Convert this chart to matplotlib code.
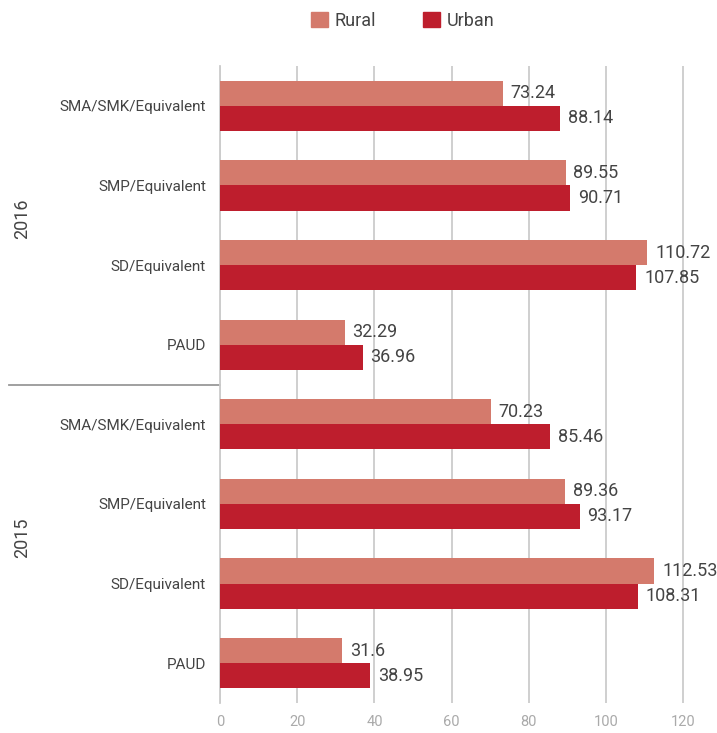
import matplotlib
matplotlib.use("Agg")
import matplotlib.pyplot as plt
import matplotlib.transforms as mtransforms
from matplotlib.lines import Line2D
from matplotlib.patches import Patch

plt.rcParams['font.family'] = ['Roboto', 'DejaVu Sans']

years = ["2016", "2015"]
levels = ["SMA/SMK/Equivalent", "SMP/Equivalent", "SD/Equivalent", "PAUD"]
rural = [73.24, 89.55, 110.72, 32.29, 70.23, 89.36, 112.53, 31.6]
urban = [88.14, 90.71, 107.85, 36.96, 85.46, 93.17, 108.31, 38.95]
x_ticks = [0, 20, 40, 60, 80, 100, 120]

rural_color = "#D47A6C"
urban_color = "#BE1E2D"
text_color = "#444444"

W, H = 717, 733
AX_L, AX_R, AX_T, AX_B = 220, 691, 66, 703
fig = plt.figure(figsize=(W / 100, H / 100), dpi=100)
ax = fig.add_axes([AX_L / W, 1 - AX_B / H, (AX_R - AX_L) / W, (AX_B - AX_T) / H])

n = len(rural)
pos = list(range(n))
bh = 0.315
ax.barh([p - bh / 2 for p in pos], rural, height=bh, color=rural_color, zorder=3)
ax.barh([p + bh / 2 for p in pos], urban, height=bh, color=urban_color, zorder=3)

for p, v in zip(pos, rural):
    ax.annotate(f"{v:g}", (v, p - bh / 2), xytext=(5.5, 0), textcoords="offset points",
                va="center", ha="left", fontsize=13, color=text_color)
for p, v in zip(pos, urban):
    ax.annotate(f"{v:g}", (v, p + bh / 2), xytext=(5.5, 0), textcoords="offset points",
                va="center", ha="left", fontsize=13, color=text_color)

ax.set_xlim(0, 122)
ax.set_ylim(n - 0.5, -0.5)
ax.set_xticks(x_ticks)
ax.set_xticklabels([str(t) for t in x_ticks], color="#aaaaaa", fontsize=10.5)
ax.tick_params(axis="x", length=0, pad=9)
ax.set_yticks(pos)
ax.set_yticklabels(levels * len(years), color=text_color, fontsize=11)
ax.tick_params(axis="y", length=0, pad=10)
ax.grid(axis="x", color="#cccccc", linewidth=1.3, zorder=0)
for s in ["top", "right", "bottom"]:
    ax.spines[s].set_visible(False)
ax.spines["left"].set_color("#cccccc")
ax.spines["left"].set_linewidth(1.3)

# separator between year groups
trans = mtransforms.blended_transform_factory(ax.transAxes, ax.transData)
ax.add_line(Line2D([-(AX_L - 9) / (AX_R - AX_L), 0], [3.5, 3.5], transform=trans,
                   color="#999999", linewidth=1.3, clip_on=False))

# year labels
per = len(levels)
for k, y in enumerate(years):
    center = k * per + (per - 1) / 2 - 0.08
    ax.text(-(AX_L - 22) / (AX_R - AX_L), center, y, transform=trans, rotation=90,
            ha="center", va="center", fontsize=13, color=text_color)

handles = [Patch(color=rural_color, label="Rural"), Patch(color=urban_color, label="Urban")]
fig.legend(handles=handles, loc="center", bbox_to_anchor=(403 / W, 1 - 21 / H), ncol=2,
           frameon=False, fontsize=13, handlelength=0.92, handleheight=0.92,
           columnspacing=2.6, handletextpad=0.4, labelcolor=text_color)

fig.savefig("out.png", dpi=100)
